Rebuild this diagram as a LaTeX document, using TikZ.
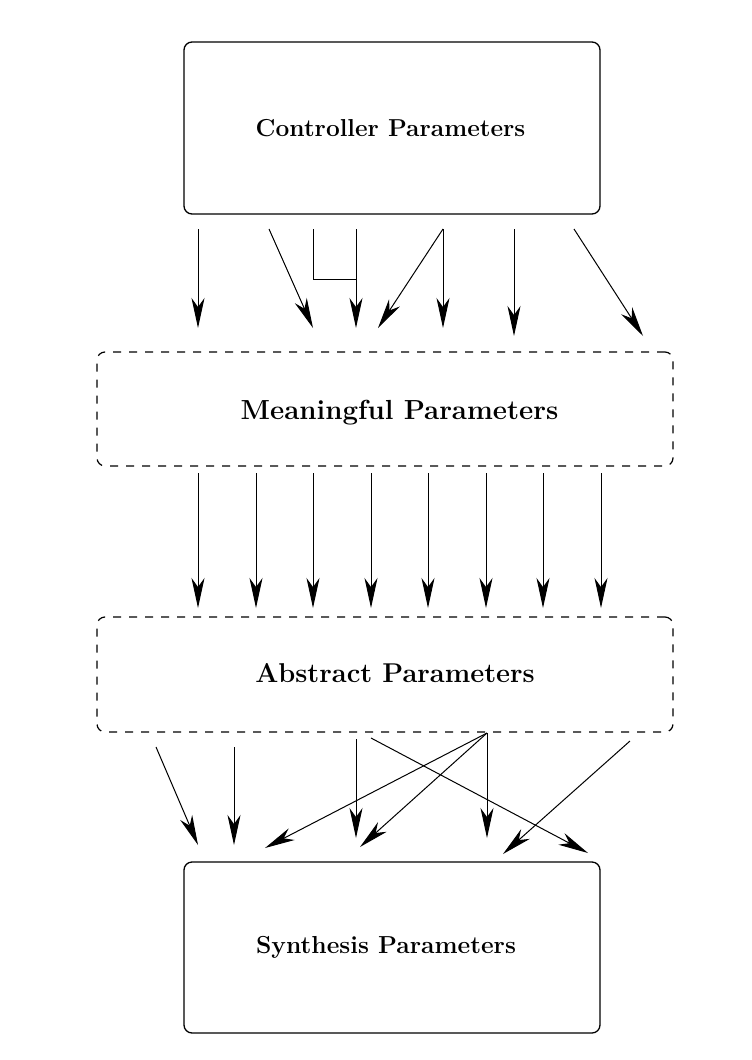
\documentclass[tikz,border=0pt]{standalone}
\usetikzlibrary{arrows.meta}
\begin{document}
\begin{tikzpicture}[x=1pt,y=-1pt,
  solidbox/.style={draw, line width=1.3pt, rounded corners=8pt, inner sep=0pt},
  dashbox/.style={draw, line width=1.2pt, rounded corners=8pt, inner sep=0pt, dash pattern=on 8pt off 8pt},
  lbl/.style={font=\bfseries, inner sep=0pt},
  arr/.style={line width=1pt, -{Stealth[length=30pt,width=13pt,inset=9pt]}},
  ln/.style={line width=1pt}]
\useasboundingbox (0,0) rectangle (752,1060);
% boxes
\node[solidbox, minimum width=416pt, minimum height=172pt] (ctrl) at (392,128) {};
\node[dashbox, minimum width=576pt, minimum height=114pt] (mean) at (385,409) {};
\node[dashbox, minimum width=576pt, minimum height=115pt] (abst) at (385,674.5) {};
\node[solidbox, minimum width=416pt, minimum height=171pt] (synt) at (392,947.5) {};
% labels
\node[lbl, font=\fontsize{24.5}{29}\selectfont\bfseries] (ctrlt) at (390.5,128) {Controller Parameters};
\node[lbl, font=\fontsize{27.6}{33}\selectfont\bfseries] (meant) at (399.5,413) {Meaningful Parameters};
\node[lbl, font=\fontsize{27.2}{32}\selectfont\bfseries] (abstt) at (395,673) {Abstract Parameters};
\node[lbl, font=\fontsize{24.6}{29}\selectfont\bfseries] (syntt) at (386,947) {Synthesis Parameters};
% top group coordinates
\coordinate (t1s) at (198,229); \coordinate (t1e) at (198,328);
\coordinate (t2s) at (269,229); \coordinate (t2e) at (313,328);
\coordinate (t3s) at (356,229); \coordinate (t3e) at (356,328);
\coordinate (t3a) at (313,229); \coordinate (t3b) at (313,279); \coordinate (t3c) at (356,279);
\coordinate (t4s) at (443,229); \coordinate (t4e) at (378,328);
\coordinate (t5e) at (443,328);
\coordinate (t6s) at (514,229); \coordinate (t6e) at (514,336);
\coordinate (t7s) at (574,229); \coordinate (t7e) at (643,336);
\draw[arr] (t1s) -- (t1e);
\draw[arr] (t2s) -- (t2e);
\draw[arr] (t3s) -- (t3e);
\draw[ln] (t3a) -- (t3b) -- (t3c);
\draw[arr] (t4s) -- (t4e);
\draw[arr] (t4s) -- (t5e);
\draw[arr] (t6s) -- (t6e);
\draw[arr] (t7s) -- (t7e);
% middle group
\foreach \i/\x in {1/198,2/256,3/313,4/371,5/428,6/486,7/543,8/601}{
  \coordinate (m\i s) at (\x,473);
  \coordinate (m\i e) at (\x,608);
  \draw[arr] (m\i s) -- (m\i e);
}
% bottom group
\coordinate (b1s) at (156,747); \coordinate (b1e) at (198,845);
\coordinate (b2s) at (234,747); \coordinate (b2e) at (234,845);
\coordinate (b3s) at (356,739); \coordinate (b3e) at (356,838);
\coordinate (b4s) at (371,738); \coordinate (b4e) at (588,853);
\coordinate (b5s) at (487,733); \coordinate (b5e) at (265,848);
\coordinate (b6e) at (360,847);
\coordinate (b7e) at (487,838);
\coordinate (b8s) at (630,741); \coordinate (b8e) at (503,854);
\draw[arr] (b1s) -- (b1e);
\draw[arr] (b2s) -- (b2e);
\draw[arr] (b3s) -- (b3e);
\draw[arr] (b4s) -- (b4e);
\draw[arr] (b5s) -- (b5e);
\draw[arr] (b5s) -- (b6e);
\draw[arr] (b5s) -- (b7e);
\draw[arr] (b8s) -- (b8e);
\end{tikzpicture}
\end{document}
